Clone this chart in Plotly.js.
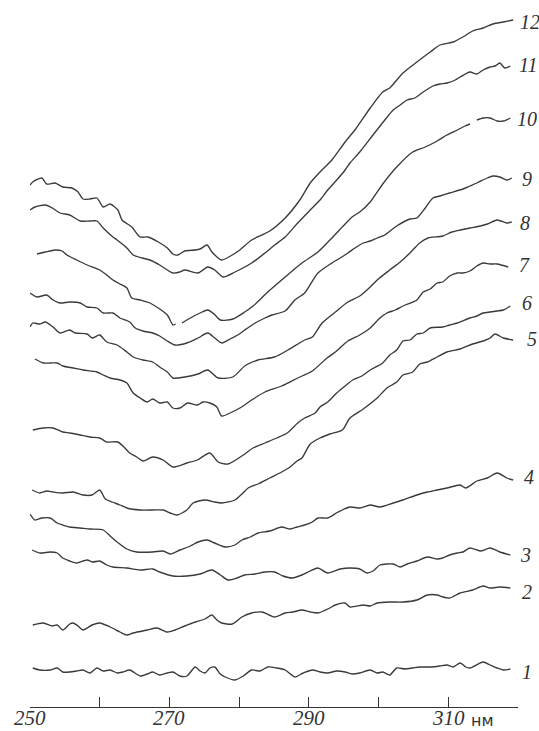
<!DOCTYPE html>
<html><head><meta charset="utf-8">
<script src="https://cdn.plot.ly/plotly-3.0.1.min.js"></script>
<style>html,body{margin:0;padding:0;background:#fff;}</style>
</head><body>
<div id="chart" style="width:539px;height:731px;"></div>
<script>
// wavelength (nm) and relative signal for each of the 12 spectra (null = gap in trace)
var wl12=[250.0,250.4,251.7,252.4,253.6,254.7,256.0,256.9,257.6,258.6,259.6,260.5,261.5,262.6,263.2,264.6,265.8,266.9,268.4,269.7,270.5,271.2,272.2,273.7,274.4,275.4,276.1,277.5,279.0,280.1,281.8,284.4,286.6,288.7,290.2,291.6,293.3,295.2,296.6,298.8,300.6,301.6,303.5,305.5,307.4,308.8,310.7,312.1,313.5,315.0,316.4,317.9,319.3];
var s12=[522,525,529,523,524,520,519,515,508,508,509,500,503,497,487,480,470,470,465,459,453,452,456,457,458,462,455,447,452,457,467,476,489,507,524,535,547,565,577,599,615,619,634,645,655,662,665,670,676,679,683,685,687];

var wl11=[250.0,250.7,252.2,253.2,254.3,255.7,257.2,258.6,259.6,260.5,261.9,262.5,263.9,264.8,266.1,267.2,268.6,269.7,270.5,271.5,272.2,274.1,275.5,276.5,277.7,279.4,281.8,283.7,285.1,286.6,288.4,290.2,291.6,292.7,294.0,295.2,295.9,297.3,299.2,300.9,302.1,303.1,304.1,305.2,306.4,307.8,308.8,309.8,311.0,311.7,313.1,314.1,315.0,316.0,316.7,317.4,318.1,318.9];
var s11=[497,500,502,499,494,492,486,486,486,479,470,467,459,452,449,447,442,437,434,435,437,434,440,437,430,435,444,454,462,470,484,497,507,517,527,537,544,555,572,587,597,602,607,609,615,621,623,624,627,630,635,633,637,640,641,644,639,641];

var wl10=[251.0,252.2,253.6,254.6,255.3,256.7,258.2,260.0,261.0,261.9,262.9,263.9,264.6,265.8,267.2,268.4,269.7,270.5,270.9,271.4,271.8,273.0,274.4,275.5,276.4,277.3,279.1,280.8,282.0,284.1,286.6,289.0,291.3,293.3,295.2,296.2,297.3,298.8,300.6,302.6,304.9,306.7,308.4,309.8,311.3,312.4,313.1,313.5,314.1,315.0,316.0,317.0,317.9,318.9];
var s10=[453,455,457,456,452,447,442,437,432,427,423,419,409,407,404,399,392,382,383,null,384,389,394,397,393,387,388,395,401,415,430,444,455,469,483,490,495,505,523,540,555,560,566,572,577,581,583,null,587,589,589,586,586,589];

var wl9=[250.0,251.0,252.4,253.3,254.3,255.7,257.2,258.2,259.6,260.5,261.9,262.9,264.3,265.1,266.2,267.6,268.6,269.7,270.8,272.5,274.1,275.5,276.5,277.5,278.7,279.8,280.8,282.3,283.7,284.7,286.6,288.0,289.4,291.3,293.3,294.5,295.6,296.6,297.8,298.8,299.8,300.9,302.6,304.5,305.5,306.7,307.8,308.8,310.2,312.1,313.1,314.1,315.6,316.4,317.4,318.4,319.1];
var s9=[414,410,412,407,404,405,404,400,399,394,394,389,385,379,376,374,371,366,362,364,369,374,369,364,368,372,377,384,389,392,396,407,414,434,444,449,454,459,464,466,469,472,481,488,489,499,509,511,514,518,521,524,529,531,530,527,529];

var wl8=[250.0,250.4,251.4,252.2,253.3,254.3,255.7,256.5,258.2,258.9,260.0,261.0,262.5,263.9,264.8,266.2,267.6,268.6,269.7,270.5,272.2,274.1,275.5,277.0,279.1,280.8,282.7,285.1,287.0,289.4,290.5,291.9,293.8,295.6,297.3,298.8,299.8,301.6,303.1,304.5,305.9,307.1,309.2,310.5,311.7,313.1,314.6,315.6,317.0,318.4,319.1];
var s8=[380,384,383,385,380,374,377,374,373,369,372,365,362,355,350,347,345,340,335,329,330,333,337,329,330,341,347,350,357,367,370,384,395,405,411,420,427,437,445,454,464,469,471,475,477,479,481,483,487,484,485];

var wl7=[250.7,251.9,252.9,253.9,254.7,256.2,257.6,259.6,260.5,261.5,262.9,263.9,264.8,265.8,266.8,267.6,268.6,269.7,270.5,271.5,272.6,274.0,274.8,275.8,276.8,277.5,278.7,280.1,281.8,283.7,286.1,288.4,290.5,292.6,293.8,295.6,297.3,298.8,300.2,301.2,302.4,303.5,305.5,306.4,307.4,308.4,309.2,310.2,311.3,312.1,313.1,314.1,315.0,316.0,317.0,318.6];
var s7=[348,344,344,344,341,339,337,335,332,329,327,324,314,309,305,308,304,305,299,299,304,302,305,304,300,291,294,299,307,315,321,329,336,349,355,366,372,379,389,394,397,401,407,415,418,424,425,431,434,434,436,441,444,443,443,440];

var wl6=[250.4,251.9,253.3,254.7,255.7,257.2,258.6,260.0,261.0,262.6,263.6,264.3,265.3,266.2,267.6,269.1,270.5,272.5,274.0,275.8,277.0,278.4,280.6,282.0,283.7,285.4,286.9,288.4,289.4,290.9,291.6,292.7,294.0,295.2,296.3,297.6,298.8,300.6,301.6,302.6,303.5,304.5,305.5,306.4,307.4,309.2,310.2,311.3,313.1,314.1,315.0,316.0,317.0,317.9,318.9];
var s6=[277,279,279,275,274,272,270,269,265,265,259,254,250,246,250,247,240,244,247,254,245,243,252,259,264,269,274,284,289,294,300,305,314,321,327,331,337,344,352,357,366,367,373,374,379,380,382,384,389,391,394,395,396,397,401];

var wl5=[250.3,251.4,252.4,253.3,254.7,256.2,257.6,258.9,260.0,260.8,261.8,262.9,263.9,265.8,267.6,269.1,270.1,271.1,272.5,273.4,275.1,276.5,277.5,279.4,280.4,281.3,282.7,284.4,286.1,287.3,288.3,289.0,290.2,291.6,293.0,294.8,295.9,297.8,299.8,301.2,302.6,303.5,304.9,305.9,307.0,308.4,309.8,311.7,313.5,315.0,316.0,316.7,317.9,319.3];
var s5=[217,214,216,215,214,215,212,212,217,208,205,202,199,197,197,197,194,192,197,204,207,205,204,207,213,219,223,229,235,240,246,249,263,269,273,277,289,298,309,319,325,332,335,343,345,350,355,358,363,366,369,373,369,367];

var wl4=[250.0,250.7,251.7,252.9,253.9,254.7,255.7,257.2,258.6,260.5,261.5,262.5,263.9,265.3,267.6,269.1,270.1,271.5,273.0,274.1,275.4,276.5,278.0,279.4,280.4,281.6,282.7,284.4,286.1,287.3,288.3,289.4,290.5,291.3,292.7,294.2,295.9,297.3,298.8,300.2,302.1,303.5,305.5,307.0,308.4,309.8,311.7,312.5,314.1,315.6,317.0,318.4,319.3];
var s4=[193,187,189,189,184,182,180,179,178,177,171,165,158,155,155,156,153,157,161,165,167,164,160,162,167,170,174,176,180,178,180,182,185,189,189,195,200,199,202,200,204,207,212,215,217,219,222,219,226,229,234,229,227];

var wl3=[250.3,251.4,252.9,253.9,254.7,255.7,256.7,258.2,259.0,260.0,261.0,261.9,263.9,265.8,267.6,268.6,270.5,272.5,274.4,276.1,277.3,278.4,279.7,280.8,282.3,283.7,285.1,286.3,287.6,289.0,290.2,291.3,292.7,294.5,295.9,297.3,298.3,299.2,300.2,302.1,303.1,304.1,305.5,307.0,308.4,309.2,310.2,311.3,312.1,313.1,314.6,316.0,317.4,318.9];
var s3=[157,154,155,154,149,146,144,147,145,146,142,140,139,137,138,135,131,131,133,137,132,127,129,132,133,135,135,131,129,132,136,139,134,138,139,138,134,136,142,143,140,143,146,150,148,149,152,154,155,159,156,159,155,152];

var wl2=[250.4,251.9,253.2,253.9,254.7,255.7,256.2,256.9,257.6,258.9,260.0,261.5,262.9,263.9,264.8,266.8,268.2,269.7,270.8,272.2,273.7,275.1,276.1,276.8,277.5,279.0,280.4,281.8,283.3,285.1,286.6,287.7,289.0,290.2,291.3,293.0,293.8,295.2,295.9,297.8,298.8,299.8,301.6,303.5,305.5,307.0,308.4,309.2,310.2,311.7,313.5,315.0,316.0,317.4,318.9];
var s2=[82,84,81,82,77,83,84,81,77,82,84,80,75,72,74,77,79,75,77,81,85,88,92,87,84,83,90,94,95,90,94,95,97,95,94,99,102,104,100,102,101,104,105,105,107,112,112,110,109,114,117,121,119,120,119];

var wl1=[250.4,251.4,252.9,253.9,254.7,255.7,256.7,257.6,258.6,259.6,260.5,261.5,262.5,263.3,264.3,265.8,266.8,267.6,268.6,269.7,270.5,271.5,272.5,273.7,274.4,275.1,275.8,276.5,277.3,278.0,279.4,280.6,281.8,283.0,284.1,285.4,286.6,288.0,289.2,290.5,291.6,292.7,294.0,295.2,296.2,297.3,298.8,299.8,300.6,301.6,302.6,303.8,304.9,305.9,307.4,308.8,309.8,310.7,311.7,312.5,313.1,315.0,316.0,317.0,317.9,318.9];
var s1=[39,37,37,39,35,35,36,37,34,39,36,37,34,35,37,31,33,35,32,34,35,31,31,40,36,34,39,40,33,30,27,31,37,36,40,39,37,30,34,37,35,34,36,35,33,34,37,34,35,32,39,38,39,40,40,41,42,40,44,40,39,45,42,39,37,38];

var curveNames=['1','2','3','4','5','6','7','8','9','10','11','12'];
var wls=[wl1,wl2,wl3,wl4,wl5,wl6,wl7,wl8,wl9,wl10,wl11,wl12];
var sigs=[s1,s2,s3,s4,s5,s6,s7,s8,s9,s10,s11,s12];
var tickVals=[250,260,270,280,290,300,310,320];
var labelVals=[250,270,290,310];
var labelText=['250','270','290','310'];
var unitLabel='нм';

// curve-number label placement (layout only): paper x of left edge, y in data units
var labelPos=[[1.004,35],[1.004,115],[1.0,152],[1.008,230],[1.014,368],[1.004,404],[0.998,442],[1.0,484],[1.004,528],[0.994,588],[0.998,642],[1.0,685]];

var traces=[];
for(var i=0;i<12;i++){
  traces.push({x:wls[i],y:sigs[i],type:'scatter',mode:'lines',name:curveNames[i],
    connectgaps:false,hoverinfo:'skip',
    line:{color:'#3a3a3a',width:1.35,shape:'spline',smoothing:0.7}});
}
var ann=[];
for(var j=0;j<12;j++){
  ann.push({x:labelPos[j][0],y:labelPos[j][1],xref:'paper',yref:'y',text:curveNames[j],showarrow:false,
    xanchor:'left',yanchor:'middle',
    font:{family:'Liberation Serif',size:20,style:'italic',color:'#333'}});
}
var bottomY=-24/707;
for(var k=0;k<labelVals.length;k++){
  ann.push({x:labelVals[k],y:bottomY,xref:'x',yref:'paper',text:labelText[k],showarrow:false,
    xanchor:'center',yanchor:'bottom',borderpad:0,
    font:{family:'Liberation Serif',size:21,style:'italic',color:'#333'}});
}
ann.push({x:313.1,y:bottomY,xref:'x',yref:'paper',text:unitLabel,showarrow:false,xanchor:'left',yanchor:'bottom',borderpad:0,
  font:{family:'DejaVu Sans',size:16,color:'#333'}});

var layout={width:539,height:731,margin:{l:30,r:21,t:0,b:24},
  paper_bgcolor:'#fff',plot_bgcolor:'#fff',showlegend:false,
  xaxis:{range:[250,320],showline:true,linecolor:'#333',linewidth:1.3,ticks:'inside',ticklen:10,tickwidth:1.2,tickcolor:'#333',
    tickmode:'array',tickvals:tickVals,showticklabels:false,showgrid:false,zeroline:false,fixedrange:true},
  yaxis:{range:[0,707],visible:false,showgrid:false,zeroline:false,fixedrange:true},
  annotations:ann};
Plotly.newPlot('chart',traces,layout,{staticPlot:true,displayModeBar:false});
</script>
</body></html>
